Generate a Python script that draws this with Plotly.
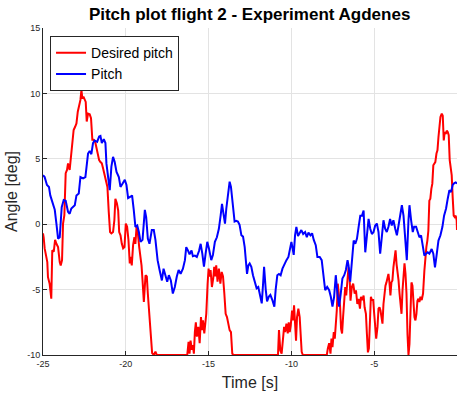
import plotly.graph_objects as go

# Measured pitch angle [deg] against time [s]
t_pitch = [-25.00, -24.90, -24.76, -24.64, -24.56, -24.40, -24.29, -24.19, -24.09, -23.99,
           -23.87, -23.75, -23.63, -23.49, -23.39, -23.29, -23.08, -22.98, -22.84, -22.74,
           -22.58, -22.44, -22.28, -22.18, -22.08, -21.98, -21.88, -21.73, -21.61, -21.53,
           -21.45, -21.33, -21.23, -21.17, -21.07, -20.97, -20.87, -20.77, -20.67, -20.56,
           -20.42, -20.32, -20.20, -20.06, -19.96, -19.86, -19.72, -19.62, -19.52, -19.42,
           -19.31, -19.21, -19.11, -18.99, -18.85, -18.77, -18.67, -18.57, -18.43, -18.31,
           -18.21, -18.08, -17.96, -17.82, -17.72, -17.60, -17.50, -17.40, -17.28, -17.16,
           -17.04, -16.92, -16.81, -16.69, -16.55, -16.43, -16.35, -16.25, -16.15, -16.03,
           -15.95, -15.83, -15.71, -15.58, -15.48, -15.38, -15.28, -15.18, -15.08, -14.98,
           -14.84, -14.74, -14.62, -14.50, -14.38, -14.27, -14.19, -14.09, -14.01, -13.93,
           -13.83, -13.73, -13.65, -13.53, -13.43, -13.33, -13.23, -13.13, -13.02, -12.92,
           -12.82, -12.68, -12.60, -12.52, -12.42, -12.32, -12.20, -12.10, -12.00, -11.90,
           -11.79, -11.71, -11.65, -11.55, -11.47, -11.37, -11.27, -11.15, -11.03, -10.95,
           -10.85, -10.75, -10.65, -10.54, -10.42, -10.30, -10.18, -10.10, -10.00, -9.94,
           -9.86, -9.78, -9.70, -9.60, -9.50, -9.40, -9.29, -9.17, -9.07, -8.97,
           -8.85, -8.75, -8.65, -8.53, -8.43, -8.29, -8.17, -8.06, -7.96, -7.84,
           -7.72, -7.62, -7.52, -7.42, -7.32, -7.22, -7.12, -7.02, -6.92, -6.81,
           -6.71, -6.61, -6.55, -6.45, -6.35, -6.24, -6.14, -6.04, -5.94, -5.84,
           -5.74, -5.64, -5.54, -5.44, -5.34, -5.24, -5.14, -5.04, -4.94, -4.84,
           -4.74, -4.64, -4.54, -4.44, -4.34, -4.24, -4.14, -4.04, -3.94, -3.84,
           -3.73, -3.63, -3.53, -3.43, -3.33, -3.23, -3.13, -3.03, -2.93, -2.87,
           -2.77, -2.67, -2.59, -2.47, -2.37, -2.27, -2.17, -2.07, -1.97, -1.87,
           -1.77, -1.67, -1.53, -1.43, -1.33, -1.22, -1.12, -1.00, -0.88, -0.78,
           -0.66, -0.56, -0.46, -0.36, -0.26, -0.16, -0.08, 0.00]
pitch = [3.75, 3.6, 3.0, 2.85, 2.2, 1.6, 1.1, 0.05, -1.1, -1.0,
         1.3, 1.85, 1.8, 0.95, 0.8, 1.2, 1.45, 2.2, 2.35, 3.6,
         3.5, 3.6, 5.4, 5.6, 5.35, 6.2, 6.4, 6.3, 6.7, 6.75,
         6.2, 6.5, 6.2, 4.65, 3.6, 2.6, 4.4, 5.15, 4.75, 4.0,
         3.6, 2.85, 3.1, 3.4, 3.0, 2.0, 2.1, 2.2, 1.1, -0.2,
         -0.1, -0.6, -1.35, -1.2, 1.1, 0.55, -1.1, -1.5, -0.45, -0.45,
         -1.2, -2.75, -3.5, -4.3, -3.4, -4.0, -4.4, -3.9, -4.3, -5.3,
         -4.8, -4.0, -3.5, -3.8, -3.4, -2.75, -1.75, -2.0, -2.3, -2.0,
         -2.45, -2.4, -2.5, -2.05, -1.5, -2.25, -3.25, -2.25, -1.35, -1.85,
         -2.75, -2.35, -1.35, -1.0, -0.35, 0.7, 1.55, 0.7, 0.05, 1.2,
         2.1, 3.25, 2.85, 1.6, 0.2, 0.25, 0.2, -0.05, -0.85, -0.95,
         -1.75, -3.8, -3.15, -3.0, -3.25, -3.9, -4.55, -4.9, -4.8, -5.4,
         -6.05, -4.55, -3.25, -5.0, -5.9, -5.55, -5.4, -5.8, -6.3, -5.0,
         -3.9, -3.8, -3.9, -3.4, -3.0, -2.75, -2.5, -2.0, -1.35, -1.75,
         -2.35, -0.85, -0.2, -0.9, -0.7, -0.45, -0.75, -0.6, -1.0, -0.65,
         -0.85, -0.7, -1.2, -1.6, -2.5, -2.5, -2.75, -3.9, -5.05, -4.8,
         -5.05, -5.55, -6.3, -5.55, -3.9, -5.3, -6.3, -5.3, -4.15, -3.9,
         -3.5, -2.75, -3.15, -4.4, -2.5, -1.25, -1.5, -1.1, -0.2, 0.65,
         0.65, 1.05, -2.15, -0.75, 0.4, -0.35, -0.75, -0.6, -0.1, 0.05,
         -0.6, -2.25, -1.0, 0.3, -0.35, -0.6, -0.2, 0.4, -0.1, 0.3,
         -0.35, -0.85, -0.1, 0.65, 1.45, 0.65, -1.5, -2.75, 0.3, 1.45,
         0.3, -0.6, -0.2, -0.2, -0.6, -1.0, -0.85, -1.5, -2.4, -2.25,
         -2.15, -2.25, -1.9, -2.25, -3.3, -2.25, -1.25, -0.85, -0.2, 0.65,
         1.2, 1.95, 2.6, 2.45, 3.0, 3.15, 3.2, 3.1]

# Desired (commanded) pitch angle [deg] against time [s]
t_desired = [-25.00, -24.96, -24.90, -24.80, -24.74, -24.70, -24.60, -24.50, -24.44, -24.35,
             -24.27, -24.19, -24.09, -23.99, -23.93, -23.85, -23.79, -23.71, -23.63, -23.55,
             -23.49, -23.39, -23.31, -23.23, -23.15, -23.06, -22.98, -22.90, -22.82, -22.74,
             -22.68, -22.62, -22.56, -22.50, -22.42, -22.36, -22.28, -22.18, -22.10, -22.02,
             -21.94, -21.85, -21.77, -21.69, -21.61, -21.53, -21.45, -21.37, -21.27, -21.19,
             -21.11, -21.03, -20.95, -20.87, -20.77, -20.69, -20.63, -20.54, -20.46, -20.40,
             -20.32, -20.24, -20.16, -20.08, -20.00, -19.92, -19.84, -19.76, -19.70, -19.64,
             -19.56, -19.48, -19.42, -19.35, -19.27, -19.19, -19.11, -19.05, -18.99, -18.91,
             -18.81, -18.73, -18.67, -18.57, -18.47, -18.41, -18.31, -18.21, -18.13, -16.29,
             -16.21, -16.15, -16.09, -16.01, -15.95, -15.89, -15.83, -15.77, -15.71, -15.62,
             -15.54, -15.46, -15.40, -15.34, -15.26, -15.20, -15.14, -15.06, -15.00, -14.94,
             -14.88, -14.80, -14.72, -14.66, -14.60, -14.54, -14.46, -14.38, -14.29, -14.21,
             -14.13, -14.05, -13.97, -13.89, -13.81, -13.73, -13.65, -13.57, -13.49, -10.81,
             -10.75, -10.67, -10.59, -10.50, -10.44, -10.38, -10.30, -10.22, -10.16, -10.10,
             -10.04, -9.96, -9.90, -9.84, -9.78, -9.72, -9.66, -9.58, -9.50, -9.44,
             -9.38, -9.31, -7.86, -7.80, -7.72, -7.64, -7.58, -7.52, -7.44, -7.38,
             -7.32, -7.26, -7.20, -7.14, -7.06, -7.00, -6.94, -6.88, -6.81, -6.75,
             -6.69, -6.63, -6.55, -6.49, -6.43, -6.35, -6.27, -6.18, -6.10, -6.02,
             -5.94, -5.86, -5.80, -5.72, -5.64, -5.58, -5.50, -5.44, -5.38, -5.32,
             -5.26, -5.20, -5.14, -5.06, -5.00, -4.94, -4.88, -4.80, -4.74, -4.68,
             -4.62, -4.56, -4.50, -4.44, -4.38, -4.32, -4.26, -4.20, -4.14, -4.08,
             -4.02, -3.96, -3.90, -3.84, -3.78, -3.71, -3.65, -3.59, -3.53, -3.47,
             -3.41, -3.35, -3.29, -3.23, -3.17, -3.11, -3.05, -2.99, -2.93, -2.87,
             -2.81, -2.75, -2.69, -2.63, -2.57, -2.51, -2.45, -2.39, -2.33, -2.27,
             -2.21, -2.13, -2.05, -1.97, -1.91, -1.85, -1.79, -1.73, -1.67, -1.61,
             -1.55, -1.49, -1.43, -1.37, -1.31, -1.24, -1.18, -1.12, -1.06, -1.00,
             -0.92, -0.86, -0.80, -0.74, -0.68, -0.62, -0.56, -0.50, -0.44, -0.38,
             -0.32, -0.26, -0.20, -0.14, -0.08, -0.02, 0.00]
desired = [-0.7, -1.0, -1.85, -2.6, -2.9, -4.05, -4.55, -5.7, -2.0, -2.1,
           -1.2, -1.5, -1.75, -2.9, -3.15, -2.75, 0.05, 0.7, 3.9, 4.15,
           4.65, 4.15, 5.15, 6.55, 7.2, 7.45, 7.7, 8.6, 9.0, 9.5,
           10.25, 9.6, 9.75, 9.5, 9.35, 7.85, 8.45, 8.4, 8.1, 6.45,
           6.45, 6.3, 5.8, 5.55, 4.9, 4.75, 4.65, 4.25, 3.6, 3.25,
           2.85, 0.95, -0.6, -0.7, -0.6, 0.3, 1.95, 1.6, 1.05, -0.6,
           -0.85, -1.5, -1.85, -1.75, 0.05, -0.2, -1.2, -3.0, -2.5, -3.15,
           -1.6, -1.0, -1.5, -0.2, -0.7, -1.75, -2.5, -3.15, -4.3, -5.95,
           -3.9, -4.0, -5.3, -7.35, -9.1, -9.85, -10.0, -9.75, -10.0, -10.0,
           -9.0, -9.9, -8.9, -9.6, -9.25, -9.9, -8.25, -7.5, -8.6, -7.85,
           -9.1, -7.1, -8.1, -7.35, -8.35, -7.6, -6.85, -4.55, -3.4, -4.0,
           -3.5, -4.8, -4.15, -3.25, -4.0, -3.15, -4.4, -3.4, -4.55, -3.65,
           -4.0, -5.3, -6.85, -7.1, -7.5, -8.1, -8.25, -9.9, -10.0, -10.0,
           -8.1, -9.65, -9.9, -8.9, -7.85, -8.25, -7.6, -8.35, -7.5, -8.25,
           -7.75, -6.6, -7.35, -6.2, -7.6, -8.9, -7.1, -6.45, -7.1, -8.1,
           -9.75, -10.0, -10.0, -9.5, -9.1, -9.9, -8.75, -9.4, -8.25, -8.75,
           -7.6, -6.6, -4.55, -5.3, -6.3, -8.0, -8.35, -7.1, -5.55, -4.8,
           -5.45, -4.55, -3.3, -3.9, -5.85, -4.8, -4.55, -5.3, -5.05, -6.1,
           -5.7, -6.45, -5.55, -5.8, -5.45, -6.35, -6.85, -8.4, -9.8, -9.5,
           -7.1, -5.55, -5.8, -5.8, -6.85, -8.1, -8.75, -7.85, -6.45, -6.35,
           -6.6, -7.1, -7.6, -6.1, -5.05, -4.7, -4.45, -4.05, -3.8, -4.45,
           -5.45, -4.45, -4.3, -3.3, -2.5, -2.0, -3.05, -3.55, -4.3, -5.3,
           -6.45, -6.85, -5.05, -3.8, -3.0, -3.8, -5.3, -8.4, -10.0, -9.15,
           -6.35, -4.45, -4.7, -5.85, -7.1, -7.35, -6.85, -5.85, -5.7, -5.95,
           -5.55, -5.8, -5.3, -3.55, -2.25, -1.75, -1.25, -0.5, 1.8, 1.95,
           2.7, 3.1, 4.5, 4.6, 4.75, 5.4, 5.65, 6.65, 7.4, 8.2,
           8.45, 8.3, 6.4, 7.05, 6.9, 7.15, 7.05, 6.8, 4.9, 4.35,
           3.75, 2.05, 0.65, 0.55, 0.65, 0.3, -0.45]

x_ticks = [-25, -20, -15, -10, -5, 0]
y_ticks = [-10, -5, 0, 5, 10, 15]

FONT = "Liberation Sans, Arial, Helvetica, sans-serif"
GRID = "#e3e3e3"
AXIS = "#262626"

fig = go.Figure()
fig.add_trace(go.Scatter(x=t_desired, y=desired, mode="lines", name="Desired pitch",
                         line=dict(color="#ff0000", width=2)))
fig.add_trace(go.Scatter(x=t_pitch, y=pitch, mode="lines", name="Pitch",
                         line=dict(color="#0000ff", width=2)))

axis_common = dict(
    showgrid=True, gridcolor=GRID, gridwidth=1,
    showline=True, linecolor=AXIS, linewidth=1,
    ticks="inside", ticklen=4, tickcolor=AXIS, tickwidth=1,
    tickfont=dict(family=FONT, size=9, color=AXIS),
    zeroline=False,
)

fig.update_layout(
    width=458, height=398,
    margin=dict(l=43, r=1, t=28, b=43),
    paper_bgcolor="white", plot_bgcolor="white",
    title=dict(text="<b>Pitch plot flight 2 - Experiment Agdenes</b>",
               font=dict(family=FONT, size=17, color="black"),
               x=0.545, xanchor="center", xref="container",
               y=1 - 14 / 398, yanchor="middle", yref="container"),
    xaxis=dict(range=[-25, 0], tickvals=x_ticks, ticktext=[str(v) for v in x_ticks],
               title=dict(text="Time [s]", font=dict(family=FONT, size=16, color=AXIS),
                          standoff=9),
               **axis_common),
    yaxis=dict(range=[-10, 15], tickvals=y_ticks, ticktext=[str(v) for v in y_ticks],
               title=dict(text="Angle [deg]", font=dict(family=FONT, size=16, color=AXIS),
                          standoff=5),
               **axis_common),
    legend=dict(x=0.017, y=0.975, xanchor="left", yanchor="top",
                bgcolor="white", bordercolor=AXIS, borderwidth=1,
                font=dict(family=FONT, size=14, color="black"),
                tracegroupgap=0, itemwidth=30),
    showlegend=True,
)

fig.write_html("out.html")
